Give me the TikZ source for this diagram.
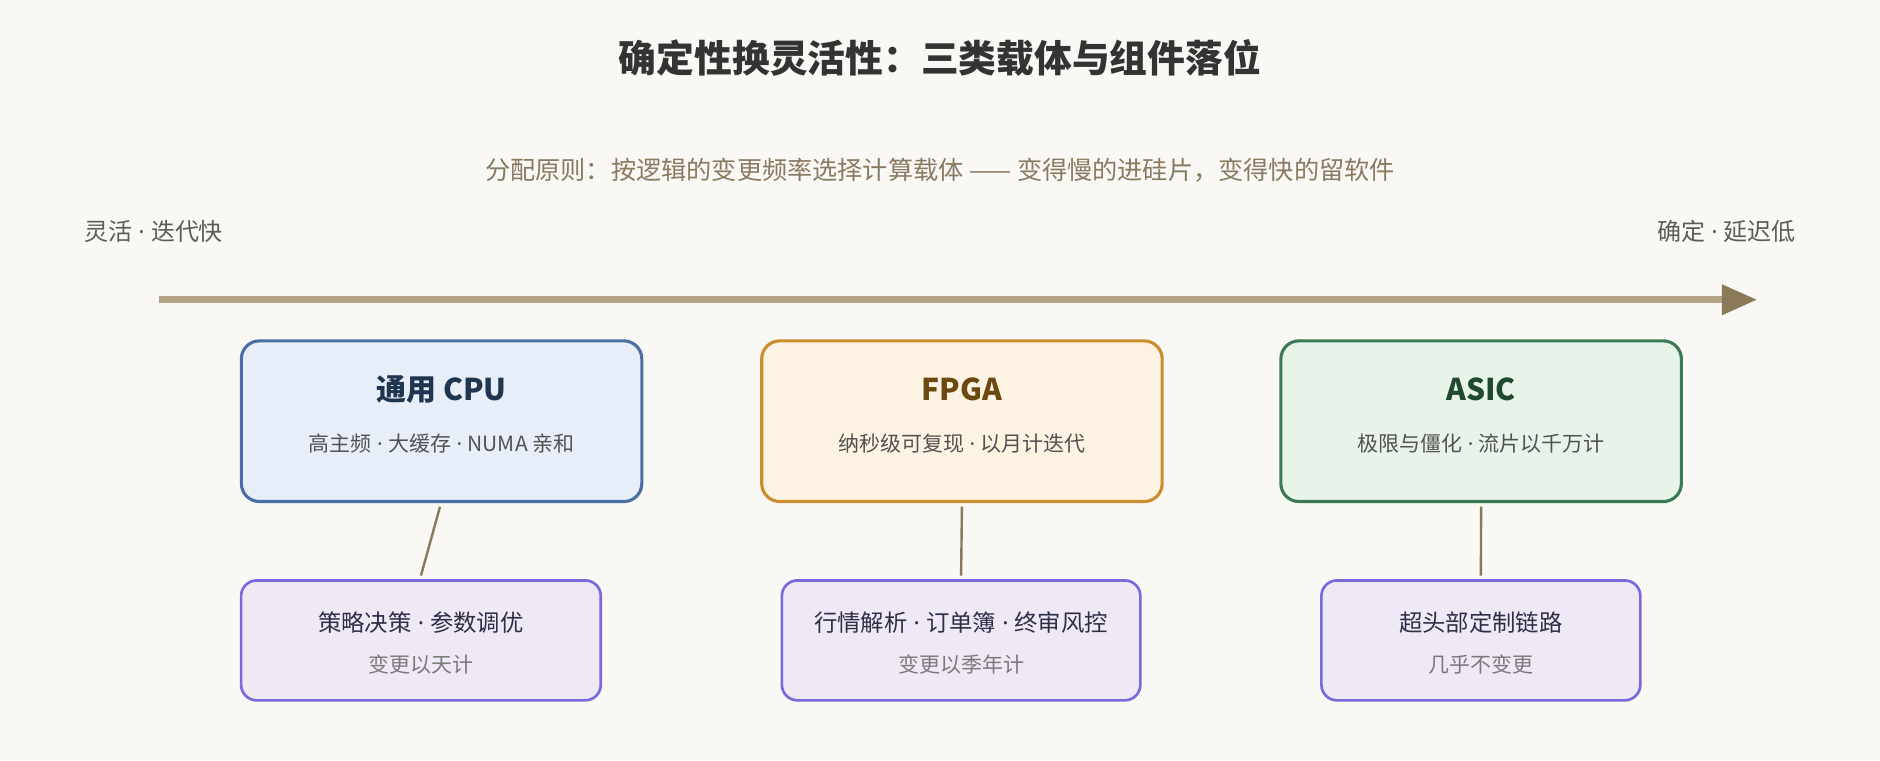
\documentclass[tikz,border=0pt]{standalone}
\usepackage{fontspec}
\setmainfont{Noto Sans CJK SC}
\newfontfamily\latf{Noto Sans}
\newcommand{\md}{{\latf\ ·\ }}
\usetikzlibrary{arrows.meta}
\definecolor{bg}{HTML}{F9F8F4}
\definecolor{ink}{HTML}{333333}
\definecolor{sub}{HTML}{8A7A62}
\definecolor{axis}{HTML}{B5A585}
\definecolor{axhead}{HTML}{8A7A5A}
\definecolor{purple0}{HTML}{EFE9F6}
\definecolor{purple1}{HTML}{7B68DD}
\definecolor{blue0}{HTML}{E8EEF8}\definecolor{blue1}{HTML}{4A6FA5}
\definecolor{orng0}{HTML}{FDF3E3}\definecolor{orng1}{HTML}{C98F2E}
\definecolor{grn0}{HTML}{E8F3EA}\definecolor{grn1}{HTML}{3A7A55}
\tikzset{x=1pt,y=-1pt,
 top/.style={draw=#1,line width=2.6pt,rounded corners=15pt,minimum width=334pt,minimum height=134pt,anchor=north west},
 bot/.style={draw=purple1,fill=purple0,line width=2.2pt,rounded corners=13pt,minimum height=100pt,anchor=north west},
 link/.style={draw=axhead,line width=2pt},
 txt/.style={inner sep=0pt}}
\begin{document}
\begin{tikzpicture}
\fill[bg] (0,0) rectangle (1568,634);
\useasboundingbox (0,0) rectangle (1568,634);
\node[txt,font=\fontsize{31.5}{34}\selectfont\bfseries,text=ink] (title) at (784,48) {确定性换灵活性：三类载体与组件落位};
\node[txt,font=\fontsize{21}{24}\selectfont,text=sub] (subt) at (784,142) {分配原则：按逻辑的变更频率选择计算载体 —— 变得慢的进硅片，变得快的留软件};
\node[txt,font=\fontsize{20}{22}\selectfont,text=ink!80,anchor=west] (l) at (70,193) {灵活\md 迭代快};
\node[txt,font=\fontsize{20}{22}\selectfont,text=ink!80,anchor=east] (r) at (1498,193) {确定\md 延迟低};
\coordinate (a0) at (133,250); \coordinate (a1) at (1440,250); \coordinate (a2) at (1465,250);
\draw[axis,line width=6pt] (a0) -- (a1);
\fill[axhead] (1436,237) -- (a2) -- (1436,263) -- cycle;
\node[top=blue1,fill=blue0] (cpu) at (200,283) {};
\node[top=orng1,fill=orng0] (fpga) at (634,283) {};
\node[top=grn1,fill=grn0] (asic) at (1067,283) {};
\foreach \n/\t/\s/\c in {cpu/通用 CPU/高主频\md 大缓存\md NUMA 亲和/1F3550, fpga/FPGA/纳秒级可复现\md 以月计迭代/6B4A10, asic/ASIC/极限与僵化\md 流片以千万计/1F4A30}{
 \definecolor{tc}{HTML}{\c}
 \node[txt,font=\fontsize{25}{27}\selectfont\bfseries,text=tc] (\n t) at ([yshift=-42pt]\n.north) {\t};
 \node[txt,font=\fontsize{17.5}{20}\selectfont,text=ink!85] (\n s) at ([yshift=-87pt]\n.north) {\s};
}
\node[bot,minimum width=300pt] (b1) at (200,483) {};
\node[bot,minimum width=299pt] (b2) at (651,483) {};
\node[bot,minimum width=266pt] (b3) at (1101,483) {};
\foreach \n/\t/\s in {b1/策略决策\md 参数调优/变更以天计, b2/行情解析\md 订单簿\md 终审风控/变更以季年计, b3/超头部定制链路/几乎不变更}{
 \node[txt,font=\fontsize{19.5}{22}\selectfont,text=ink!90!blue] (\n t) at ([yshift=-36pt]\n.north) {\t};
 \node[txt,font=\fontsize{17.5}{20}\selectfont,text=ink!65] (\n s) at ([yshift=-71pt]\n.north) {\s};
}
\draw[link] ([xshift=167pt,yshift=-3pt]cpu.south west) -- ([yshift=3pt]b1.north);
\draw[link] ([yshift=-3pt]fpga.south) -- ([yshift=3pt]b2.north);
\draw[link] ([yshift=-3pt]asic.south) -- ([yshift=3pt]b3.north);
\end{tikzpicture}
\end{document}
